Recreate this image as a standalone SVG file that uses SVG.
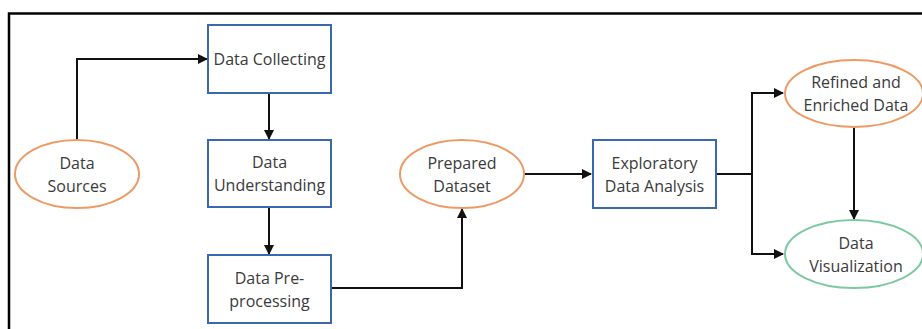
<svg xmlns="http://www.w3.org/2000/svg" width="922" height="329" viewBox="0 0 922 329">
<defs>
<style>
.box{fill:#fff;stroke:#3a67ad;stroke-width:2}
.ell{fill:#fff;stroke:#ee9a64;stroke-width:2}
.ellg{fill:#fff;stroke:#7cc9a0;stroke-width:2}
text{font-family:"Open Sans","Noto Sans",sans-serif;font-size:16px;fill:#3a3a3a;text-anchor:middle}
.c{fill:none;stroke:#111;stroke-width:2}
</style>
<marker id="ah" viewBox="0 0 10 10" refX="9" refY="5" markerWidth="5" markerHeight="5" orient="auto-start-reverse" markerUnits="strokeWidth">
<path d="M0,0 L10,5 L0,10 z" fill="#111"/>
</marker>
</defs>
<rect x="0" y="0" width="922" height="329" fill="#fff"/>
<path d="M9,329 V13.5 H922" fill="none" stroke="#000" stroke-width="2.5"/>
<g id="connectors">
<path class="c" d="M77,140 V59 H207" marker-end="url(#ah)"/>
<path class="c" d="M269,93 V139" marker-end="url(#ah)"/>
<path class="c" d="M269,208 V254" marker-end="url(#ah)"/>
<path class="c" d="M331,288 H462 V209" marker-end="url(#ah)"/>
<path class="c" d="M524,174 H591" marker-end="url(#ah)"/>
<path class="c" d="M716,174 H752"/>
<path class="c" d="M752,93 V254"/>
<path class="c" d="M751,93 H783" marker-end="url(#ah)"/>
<path class="c" d="M751,254 H783" marker-end="url(#ah)"/>
<path class="c" d="M854,127 V219" marker-end="url(#ah)"/>
</g>
<g id="data-sources">
<ellipse class="ell" cx="77" cy="174" rx="62" ry="34"/>
<text x="77" y="168.5">Data</text>
<text x="77" y="191.5">Sources</text>
</g>
<g id="data-collecting">
<rect class="box" x="208" y="25" width="123" height="68"/>
<text x="269.5" y="65">Data Collecting</text>
</g>
<g id="data-understanding">
<rect class="box" x="208" y="140" width="123" height="67"/>
<text x="269.5" y="168">Data</text>
<text x="269.5" y="191">Understanding</text>
</g>
<g id="data-preprocessing">
<rect class="box" x="208" y="255" width="123" height="68"/>
<text x="269.5" y="283.5">Data Pre-</text>
<text x="269.5" y="306.5">processing</text>
</g>
<g id="prepared-dataset">
<ellipse class="ell" cx="462" cy="174" rx="62" ry="34"/>
<text x="462" y="168.5">Prepared</text>
<text x="462" y="191.5">Dataset</text>
</g>
<g id="eda">
<rect class="box" x="593" y="140" width="123" height="68"/>
<text x="654.5" y="168.5">Exploratory</text>
<text x="654.5" y="191.5">Data Analysis</text>
</g>
<g id="refined">
<ellipse class="ell" cx="854" cy="93.5" rx="69" ry="33.5"/>
<text x="856" y="88">Refined and</text>
<text x="856" y="111">Enriched Data</text>
</g>
<g id="visualization">
<ellipse class="ellg" cx="854" cy="254" rx="69" ry="34"/>
<text x="856" y="248.5">Data</text>
<text x="856" y="271.5">Visualization</text>
</g>
</svg>
